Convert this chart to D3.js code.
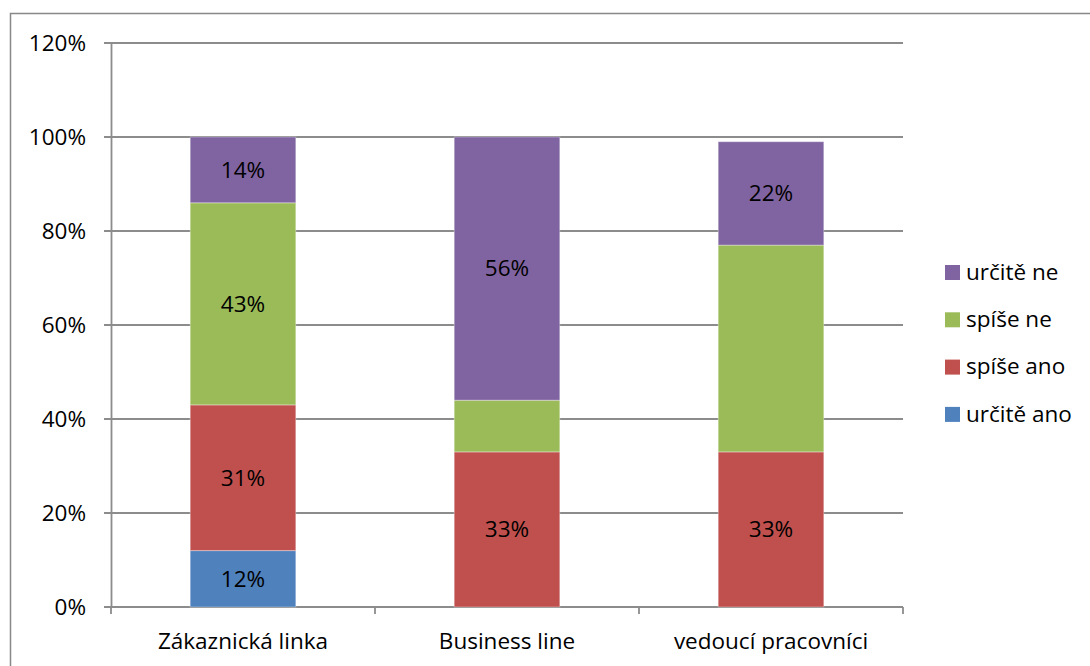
<!DOCTYPE html>
<html>
<head>
<meta charset="utf-8">
<script src="https://cdn.jsdelivr.net/npm/d3@7"></script>
<style>
  html, body { margin: 0; padding: 0; background: #fff; }
  svg { display: block; font-family: "Open Sans", sans-serif; }
</style>
</head>
<body>
<svg id="chart" width="1090" height="666"></svg>
<script>
// Survey answers per group, in percent
const categories = ["Zákaznická linka", "Business line", "vedoucí pracovníci"];
const seriesNames = ["určitě ano", "spíše ano", "spíše ne", "určitě ne"];
const seriesColors = ["#4F81BD", "#C0504D", "#9BBB59", "#8064A2"];
const urciteAno = [12, 0, 0];
const spiseAno = [31, 33, 33];
const spiseNe = [43, 11, 44];
const urciteNe = [14, 56, 22];
// Which segments carry a value label
const showLabel = [
  [true, false, false],
  [true, true, true],
  [true, false, false],
  [true, true, true]
];
const yTicks = [0, 20, 40, 60, 80, 100, 120];

const FONT = "'Open Sans', sans-serif";
const FS = 22.5;

const values = [urciteAno, spiseAno, spiseNe, urciteNe];
const table = categories.map((c, i) => {
  const row = { category: c };
  seriesNames.forEach((s, j) => row[s] = values[j][i]);
  return row;
});
const stacked = d3.stack().keys(seriesNames)(table);

const svg = d3.select("#chart");
const margin = { left: 111, right: 187, top: 43, bottom: 59 };
const W = 1090, H = 666;

// Outer chart border
svg.append("rect")
  .attr("x", 10.5).attr("y", 13.5)
  .attr("width", W + 20).attr("height", H + 20)
  .attr("fill", "none").attr("stroke", "#888").attr("stroke-width", 1.5);

const x = d3.scaleBand().domain(categories)
  .range([margin.left, W - margin.right])
  .paddingInner(0.6).paddingOuter(0.3);
const y = d3.scaleLinear().domain([0, 120]).range([H - margin.bottom, margin.top]);

// Gridlines
svg.append("g").selectAll("line").data(yTicks).join("line")
  .attr("x1", margin.left - 7).attr("x2", W - margin.right)
  .attr("y1", d => y(d)).attr("y2", d => y(d))
  .attr("stroke", "#8c8c8c").attr("stroke-width", 1.8);

// Y axis
const yAxis = svg.append("g")
  .attr("transform", `translate(${margin.left},0)`)
  .call(d3.axisLeft(y).tickValues(yTicks).tickFormat(d => d + "%").tickSize(0).tickPadding(25));
yAxis.select(".domain").attr("stroke", "#8c8c8c").attr("stroke-width", 1.8);
yAxis.selectAll("text").attr("font-size", FS).attr("fill", "#000")
  .attr("font-family", FONT);

// X axis with ticks on band boundaries
const xAxisG = svg.append("g").attr("transform", `translate(0,${y(0)})`);
xAxisG.append("line")
  .attr("x1", margin.left).attr("x2", W - margin.right)
  .attr("stroke", "#8c8c8c").attr("stroke-width", 1.8);
const step = (W - margin.right - margin.left) / categories.length;
xAxisG.selectAll("line.tick").data(d3.range(categories.length + 1)).join("line")
  .attr("class", "tick")
  .attr("x1", i => margin.left + i * step).attr("x2", i => margin.left + i * step)
  .attr("y1", 0).attr("y2", 7)
  .attr("stroke", "#8c8c8c").attr("stroke-width", 1.8);
xAxisG.selectAll("text").data(categories).join("text")
  .attr("x", d => x(d) + x.bandwidth() / 2)
  .attr("y", 42)
  .attr("text-anchor", "middle")
  .attr("font-size", FS).attr("fill", "#000")
  .text(d => d);

// Bars
const layers = svg.append("g").selectAll("g").data(stacked).join("g")
  .attr("fill", (d, i) => seriesColors[i]);
layers.selectAll("rect").data(d => d).join("rect")
  .attr("x", d => x(d.data.category))
  .attr("width", x.bandwidth())
  .attr("y", d => y(d[1]))
  .attr("height", d => y(d[0]) - y(d[1]))
  .attr("stroke", "rgba(255,255,255,0.35)").attr("stroke-width", 1);

// Value labels
stacked.forEach((layer, si) => {
  svg.append("g").selectAll("text").data(layer.filter((d, ci) => showLabel[si][ci] && d[1] - d[0] > 0))
    .join("text")
    .attr("x", d => x(d.data.category) + x.bandwidth() / 2)
    .attr("y", d => (y(d[0]) + y(d[1])) / 2)
    .attr("dy", "0.35em")
    .attr("text-anchor", "middle")
    .attr("font-size", FS).attr("fill", "#000")
    .text(d => (d[1] - d[0]) + "%");
});

// Legend (top to bottom: last series first)
const legend = svg.append("g");
const legendOrder = seriesNames.map((s, i) => i).reverse();
legendOrder.forEach((si, k) => {
  const yy = 272 + k * 47.3;
  legend.append("rect")
    .attr("x", 945).attr("y", yy - 7)
    .attr("width", 15).attr("height", 15)
    .attr("fill", seriesColors[si]);
  legend.append("text")
    .attr("x", 966).attr("y", yy)
    .attr("dy", "0.35em")
    .attr("font-size", FS).attr("fill", "#000")
    .text(seriesNames[si]);
});
</script>
</body>
</html>
